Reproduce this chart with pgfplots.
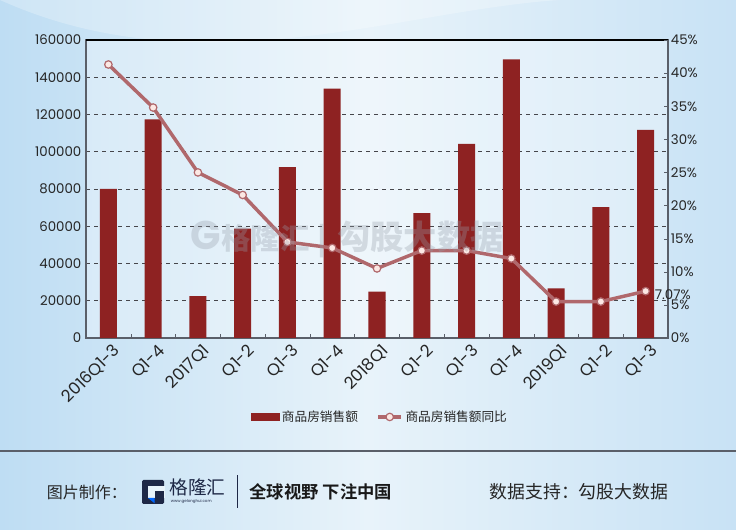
\documentclass[border=0pt]{standalone}
\usepackage{pgfplots}
\pgfplotsset{compat=1.18}
\usepackage{fontspec}
\setmainfont{Poppins}
\newfontfamily\cjk{Noto Sans CJK SC}
\newfontfamily\cjkb{Noto Sans CJK SC Bold}
\definecolor{barc}{RGB}{142,34,34}
\definecolor{linec}{RGB}{176,104,108}
\definecolor{markf}{RGB}{252,232,228}
\definecolor{bgA}{RGB}{190,221,243}
\definecolor{bgB}{RGB}{232,243,250}
\definecolor{bgC}{RGB}{200,226,245}
\definecolor{gridc}{RGB}{70,70,75}
\definecolor{axc}{RGB}{90,95,105}
\definecolor{navy}{RGB}{30,40,70}
\definecolor{wm}{RGB}{150,158,170}
\begin{document}
\begin{tikzpicture}
\useasboundingbox (0,0) rectangle (552pt,397.5pt);
\shade[left color=bgA, right color=bgC, middle color=bgB] (0,0) rectangle (552pt,397.5pt);
\fill[white, opacity=0.25] (0,397.5pt) .. controls (150pt,330pt) and (300pt,390pt) .. (420pt,397.5pt) -- cycle;
% footer
\draw[axc, line width=0.8pt] (0,59.25pt) -- (552pt,59.25pt);
\node[anchor=west, inner sep=0pt, font=\cjk\fontsize{12}{14}\selectfont, text=black!85] at (35pt,28.5pt) {图片制作：};
\fill[navy, rounded corners=1pt] (106.5pt,19.5pt) rectangle (123pt,37.5pt);
\fill[bgB] (111pt,24pt) rectangle (123.5pt,33pt);
\fill[navy] (116.5pt,24pt) rectangle (123pt,29pt);
\fill[blue!60!cyan] (111pt,24pt) -- (116pt,24pt) -- (116pt,20pt) -- cycle;
\node[anchor=west, inner sep=0pt, font=\cjk\fontsize{14}{16}\selectfont, text=navy] at (127pt,32pt) {格隆汇};
\node[anchor=west, inner sep=0pt, font=\fontsize{3}{3}\selectfont, text=navy] at (128pt,21.5pt) {www.gelonghui.com};
\draw[navy, line width=0.6pt] (177.75pt,16.5pt) -- (177.75pt,41pt);
\node[anchor=west, inner sep=0pt, font=\cjkb\fontsize{13}{15}\selectfont, text=black!90] at (187pt,28.5pt) {全球视野 下注中国};
\node[anchor=west, inner sep=0pt, font=\cjk\fontsize{13.4}{15}\selectfont, text=black!85] at (367pt,28.5pt) {数据支持：勾股大数据};
\begin{axis}[
  at={(64.5pt,144pt)}, anchor=south west,
  scale only axis, width=436.5pt, height=223.5pt,
  xmin=-0.5, xmax=12.5, ymin=0, ymax=160000,
  ytick={0,20000,...,160000},
  scaled y ticks=false,
  /pgf/number format/fixed,
  /pgf/number format/precision=0,
  /pgf/number format/1000 sep={},
  /pgf/number format/assume math mode=true,
  yticklabel style={font=\fontsize{10}{12}\selectfont, text=black!85},
  xtick={0,...,12},
  xticklabels={2016Q1-3,Q1-4,2017Q1,Q1-2,Q1-3,Q1-4,2018Q1,Q1-2,Q1-3,Q1-4,2019Q1,Q1-2,Q1-3},
  xticklabel style={rotate=45, anchor=north east, font=\fontsize{12.5}{13}\selectfont, text=black!85, inner sep=0.5pt, yshift=-4pt},
  major tick length=0pt,
  minor xtick={-0.5,0.5,...,12.5},
  minor tick length=3pt,
  xtick pos=bottom, ytick pos=left,
  tick align=inside,
  minor tick style={axc},
  ymajorgrids,
  major grid style={dashed, gridc, line width=0.7pt},
  axis line style={axc, line width=0.8pt},
  axis background/.style={fill=white, fill opacity=0.3},
  clip=false,
]
\addplot[ybar, bar width=0.38, fill=barc, draw=none] coordinates {
(0,80000) (1,117400) (2,22500) (3,58700) (4,91800) (5,133900) (6,24900)
(7,67100) (8,104200) (9,149600) (10,26700) (11,70300) (12,111700)};
\draw[black, line width=1.4pt] (rel axis cs:0,1) -- (rel axis cs:1,1);
\end{axis}
\begin{axis}[
  at={(64.5pt,144pt)}, anchor=south west,
  scale only axis, width=436.5pt, height=223.5pt,
  xmin=-0.5, xmax=12.5, ymin=0, ymax=45,
  axis x line=none,
  axis y line*=right,
  ytick={0,5,...,45},
  /pgf/number format/fixed,
  /pgf/number format/precision=0,
  /pgf/number format/assume math mode=true,
  yticklabel={\pgfmathprintnumber{\tick}\%},
  yticklabel style={font=\fontsize{10}{12}\selectfont, text=black!85, inner sep=1pt, xshift=1pt},
  tick align=inside,
  major tick length=3pt,
  y axis line style={axc, line width=0.8pt},
  ytick style={axc},
  clip=false,
  legend style={at={(0.506,-0.265)}, anchor=center, draw=none, fill=none,
    font=\cjk\fontsize{9.5}{11}\selectfont, text=black!85,
    /tikz/every even column/.append style={column sep=12pt}},
  legend columns=2,
]
\addlegendimage{legend image code/.code={\fill[barc] (0cm,-0.09cm) rectangle (0.72cm,0.09cm);}}
\addlegendentry{商品房销售额}
\addplot[linec, line width=2.6pt, mark=*, mark size=2.8pt, mark options={fill=markf, draw=linec, line width=0.9pt}] coordinates {
(0,41.3) (1,34.8) (2,25.0) (3,21.6) (4,14.5) (5,13.6) (6,10.5)
(7,13.2) (8,13.2) (9,12.0) (10,5.5) (11,5.5) (12,7.07)};
\addlegendentry{商品房销售额同比}
\node[anchor=west, inner sep=0pt, font=\fontsize{10}{12}\selectfont, text=black!85] at (axis cs:12.2,6.5) {7.07\%};
\end{axis}
% watermark (overlay)
\node[anchor=west, inner sep=0pt, text=wm, opacity=0.32] at (143pt,218pt) {\fontsize{30}{30}\selectfont\bfseries G\cjk\fontsize{22}{24}\selectfont 格隆汇\hspace{6pt}|\hspace{8pt}\fontsize{25}{27}\selectfont 勾股大数据};
\end{tikzpicture}
\end{document}
